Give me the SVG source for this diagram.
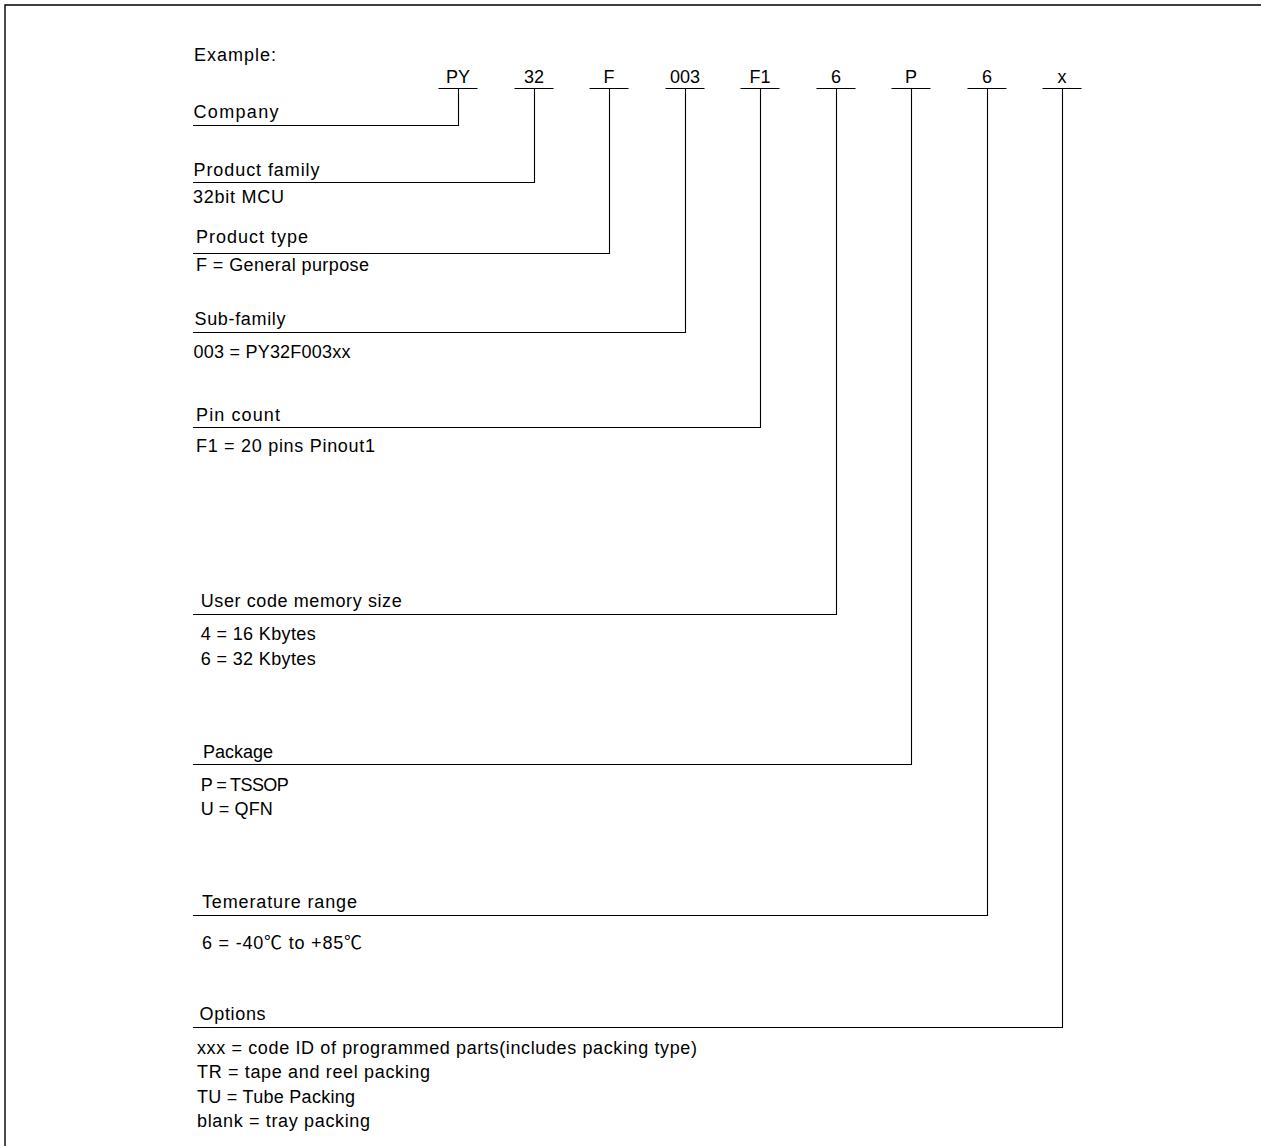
<svg xmlns="http://www.w3.org/2000/svg" width="1261" height="1146" viewBox="0 0 1261 1146">
<style>
text{font-family:"Liberation Sans","Noto Sans CJK SC",sans-serif;font-size:18px;fill:#000}
.code{text-anchor:middle}
.ln{fill:none;stroke:#000;stroke-width:1.1}
.frame{fill:none;stroke:#000;stroke-width:1.4}
</style>
<rect x="0" y="0" width="1261" height="1146" fill="#fff"/>
<path class="frame" d="M5,1146 V5 H1261"/>
<g id="title"><text x="194" y="61" textLength="82">Example:</text></g>
<g id="codes">
<text class="code" x="458" y="83">PY</text>
<text class="code" x="534" y="83">32</text>
<text class="code" x="609" y="83">F</text>
<text class="code" x="685" y="83">003</text>
<text class="code" x="760" y="83">F1</text>
<text class="code" x="836" y="83">6</text>
<text class="code" x="911" y="83">P</text>
<text class="code" x="987" y="83">6</text>
<text class="code" x="1062" y="83">x</text>
</g>
<g id="connectors">
<path class="ln" d="M438.5,88.5 H477.5 M458.5,88.5 V125.5 H193"/>
<path class="ln" d="M514.5,88.5 H553.5 M534.5,88.5 V182.5 H193"/>
<path class="ln" d="M589.5,88.5 H628.5 M609.5,88.5 V253.5 H193"/>
<path class="ln" d="M665.5,88.5 H704.5 M685.5,88.5 V332.5 H193"/>
<path class="ln" d="M740.5,88.5 H779.5 M760.5,88.5 V427.5 H193"/>
<path class="ln" d="M816.5,88.5 H855.5 M836.5,88.5 V614.5 H193"/>
<path class="ln" d="M891.5,88.5 H930.5 M911.5,88.5 V764.5 H193"/>
<path class="ln" d="M967.5,88.5 H1006.5 M987.5,88.5 V915.5 H193"/>
<path class="ln" d="M1042.5,88.5 H1081.5 M1062.5,88.5 V1027.5 H193"/>
</g>
<g id="company"><text x="193.5" y="118" textLength="85">Company</text></g>
<g id="product-family">
<text x="193.5" y="176" textLength="126">Product family</text>
<text x="193" y="203" textLength="91">32bit MCU</text>
</g>
<g id="product-type">
<text x="196" y="243" textLength="112">Product type</text>
<text x="196" y="271" textLength="173">F = General purpose</text>
</g>
<g id="sub-family">
<text x="194.5" y="325" textLength="91">Sub-family</text>
<text x="193.5" y="358" textLength="157">003 = PY32F003xx</text>
</g>
<g id="pin-count">
<text x="196" y="421" textLength="84">Pin count</text>
<text x="196" y="452" textLength="179">F1 = 20 pins Pinout1</text>
</g>
<g id="memory-size">
<text x="200.7" y="607" textLength="201">User code memory size</text>
<text x="200.7" y="640" textLength="115">4 = 16 Kbytes</text>
<text x="200.7" y="665" textLength="115">6 = 32 Kbytes</text>
</g>
<g id="package">
<text x="203" y="758" textLength="70">Package</text>
<text x="200.7" y="791" textLength="88">P = TSSOP</text>
<text x="200.7" y="815" textLength="72">U = QFN</text>
</g>
<g id="temperature">
<text x="202" y="908" textLength="155">Temerature range</text>
<text x="202" y="949" textLength="160">6 = -40℃ to +85℃</text>
</g>
<g id="options">
<text x="199.6" y="1020" textLength="66">Options</text>
<text x="197" y="1054" textLength="500">xxx = code ID of programmed parts(includes packing type)</text>
<text x="197" y="1078" textLength="233">TR =  tape and reel packing</text>
<text x="197" y="1103" textLength="158">TU = Tube Packing</text>
<text x="197" y="1127" textLength="173">blank = tray packing</text>
</g>
</svg>
